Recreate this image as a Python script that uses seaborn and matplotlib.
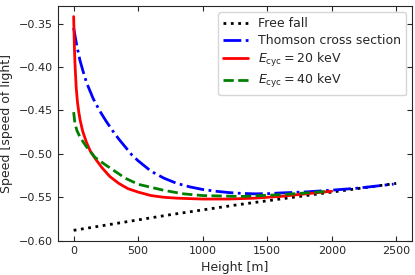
import matplotlib
matplotlib.use("Agg")
import matplotlib.pyplot as plt
import seaborn as sns
import pandas as pd

# Free fall
ff_h = [0, 250, 500, 750, 1000, 1250, 1500, 1750, 2000, 2250, 2500]
ff_v = [-0.588, -0.582, -0.576, -0.570, -0.5645, -0.559, -0.554, -0.549, -0.544, -0.539, -0.534]

# Thomson cross section
th_h = [0, 25, 50, 75, 100, 150, 200, 250, 300, 350, 400, 450, 500, 600, 700, 800, 900,
        1000, 1100, 1200, 1300, 1400, 1500, 1600, 1800, 2000, 2200, 2350, 2480]
th_v = [-0.355, -0.376, -0.393, -0.406, -0.418, -0.436, -0.450, -0.462, -0.473, -0.483,
        -0.492, -0.501, -0.508, -0.520, -0.528, -0.534, -0.538, -0.541, -0.543, -0.5445,
        -0.5455, -0.546, -0.5458, -0.545, -0.5438, -0.5418, -0.5395, -0.537, -0.5348]

# E_cyc = 20 keV
e20_h = [0, 3, 6, 10, 15, 20, 30, 40, 50, 70, 100, 130, 170, 220, 280, 350, 420, 500,
         600, 700, 800, 1000, 1200, 1400, 1600, 1800, 2000]
e20_v = [-0.342, -0.360, -0.378, -0.395, -0.410, -0.424, -0.441, -0.452, -0.461, -0.474,
         -0.487, -0.497, -0.506, -0.516, -0.526, -0.534, -0.540, -0.544, -0.548, -0.550,
         -0.551, -0.552, -0.552, -0.551, -0.549, -0.546, -0.543]

# E_cyc = 40 keV
e40_h = [0, 10, 25, 50, 100, 165, 250, 400, 500, 700, 850, 1000, 1300, 1600, 1800, 1980]
e40_v = [-0.452, -0.465, -0.473, -0.481, -0.492, -0.504, -0.513, -0.528, -0.535, -0.542,
         -0.546, -0.548, -0.549, -0.547, -0.545, -0.543]

labels = ["Free fall", "Thomson cross section",
          r"$E_{\rm cyc} = 20$ keV", r"$E_{\rm cyc} = 40$ keV"]

sns.set_style("ticks", {"xtick.direction": "in", "ytick.direction": "in",
                        "xtick.top": True, "ytick.right": True})
plt.rcParams["font.family"] = ["DejaVu Sans"]

fig = plt.figure(figsize=(4.15, 2.75), dpi=100)
ax = fig.add_axes([0.1386, 0.1236, 0.855, 0.855])

series = [(ff_h, ff_v, "black", ":"),
          (th_h, th_v, "blue", "-."),
          (e20_h, e20_v, "red", "-"),
          (e40_h, e40_v, "green", "--")]
for (h, v, c, ls), lab in zip(series, labels):
    df = pd.DataFrame({"h": h, "v": v})
    sns.lineplot(data=df, x="h", y="v", ax=ax, color=c, linestyle=ls,
                 linewidth=2, label=lab, sort=False)

ax.set_xlim(-125, 2625)
ax.set_ylim(-0.6003, -0.3297)
ax.set_xticks([0, 500, 1000, 1500, 2000, 2500])
ax.set_yticks([-0.60, -0.55, -0.50, -0.45, -0.40, -0.35])
ax.tick_params(labelsize=8, length=3.5, top=True, right=True, direction="in")
ax.set_xlabel("Height [m]", fontsize=9)
ax.set_ylabel("Speed [speed of light]", fontsize=9)
ax.legend(loc="upper right", fontsize=9, labelspacing=0.3)

fig.savefig("out.png", dpi=100)
